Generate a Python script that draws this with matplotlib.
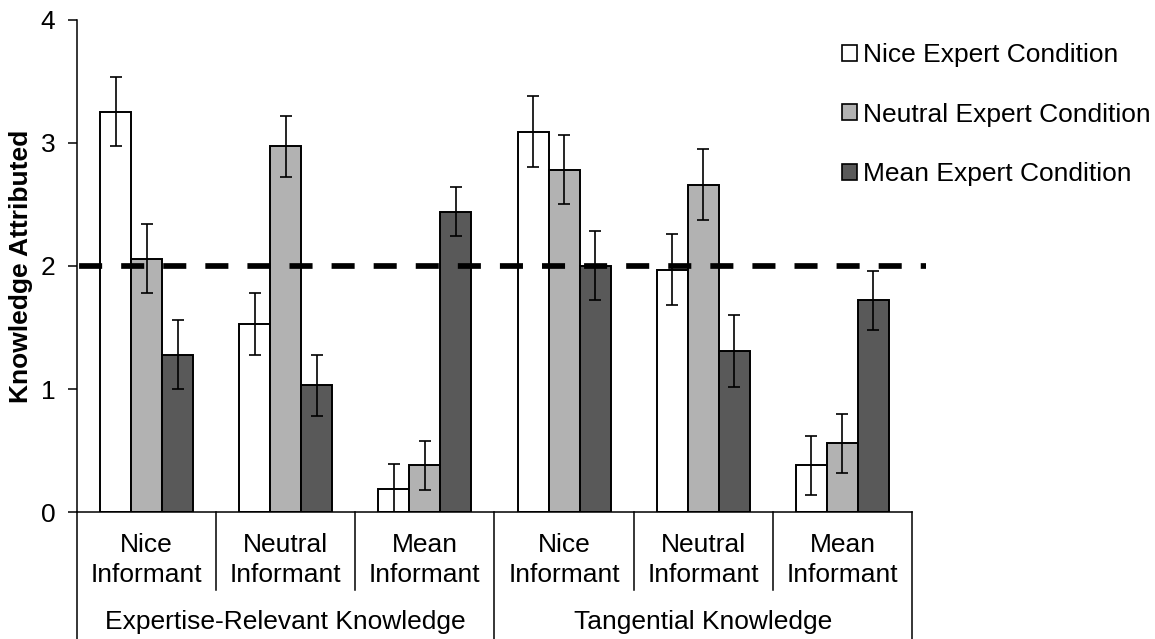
import matplotlib
matplotlib.use("Agg")
import matplotlib.pyplot as plt
from matplotlib.patches import Patch
import numpy as np

plt.rcParams['font.family'] = ['Liberation Sans', 'DejaVu Sans']
plt.rcParams['lines.scale_dashes'] = False

# ---- data ----
informants = ["Nice\nInformant", "Neutral\nInformant", "Mean\nInformant",
              "Nice\nInformant", "Neutral\nInformant", "Mean\nInformant"]
knowledge_groups = ["Expertise-Relevant Knowledge", "Tangential Knowledge"]
series_names = ["Nice Expert Condition", "Neutral Expert Condition", "Mean Expert Condition"]

nice_expert = [3.25, 1.53, 0.19, 3.09, 1.97, 0.38]
neutral_expert = [2.06, 2.97, 0.38, 2.78, 2.66, 0.56]
mean_expert = [1.28, 1.03, 2.44, 2.00, 1.31, 1.72]

nice_err = [0.28, 0.25, 0.20, 0.29, 0.29, 0.24]
neutral_err = [0.28, 0.25, 0.20, 0.28, 0.29, 0.24]
mean_err = [0.28, 0.25, 0.20, 0.28, 0.29, 0.24]

chance_level = 2

yticks = [0, 1, 2, 3, 4]
ylabel = "Knowledge Attributed"

# ---- styling ----
colors = ["#FFFFFF", "#B2B2B2", "#595959"]
FS = 19

W, H = 1155, 639
fig = plt.figure(figsize=(W / 100, H / 100), dpi=100)
ax = fig.add_axes([77 / W, 1 - 512.3 / H, (912 - 77) / W, (512.3 - 19.5) / H])

x = np.arange(len(informants))
bw = 0.2227
values = [nice_expert, neutral_expert, mean_expert]
errs = [nice_err, neutral_err, mean_err]
for i, (vals, er, c, name) in enumerate(zip(values, errs, colors, series_names)):
    pos = x + (i - 1) * bw
    ax.bar(pos, vals, width=bw, color=c, edgecolor="black", linewidth=1.4,
           label=name, zorder=2)
    ax.errorbar(pos, vals, yerr=er, fmt="none", ecolor="black", elinewidth=1.2,
                capsize=4.3, capthick=1.2, zorder=3)

# dashed reference line
ax.plot([-0.5, 5.6], [chance_level, chance_level], color="black", linewidth=4.1,
        linestyle=(28.8, (16.6, 13.7)), dash_capstyle="butt", clip_on=False, zorder=4)

ax.set_xlim(-0.5, 5.5)
ax.set_ylim(0, 4)
ax.set_yticks(yticks)
ax.set_yticklabels([str(t) for t in yticks], fontsize=FS)
ax.tick_params(axis="y", length=6.5, width=1.1, pad=9)
ax.set_xticks([])
for s in ["top", "right"]:
    ax.spines[s].set_visible(False)
ax.spines["left"].set_linewidth(1.1)
ax.spines["bottom"].set_linewidth(1.1)

ax.set_ylabel(ylabel, fontsize=FS, fontweight="bold")
ax.yaxis.set_label_coords(-(77 - 33) / (912 - 77), 0.5)

# category labels and separators
tr = ax.get_xaxis_transform()
axh = 512.3 - 19.5
for xi, lab in zip(x, informants):
    l1, l2 = lab.split("\n")
    ax.text(xi, -(552.3 - 512.3) / axh, l1, transform=tr, ha="center", va="baseline", fontsize=FS)
    ax.text(xi, -(582.5 - 512.3) / axh, l2, transform=tr, ha="center", va="baseline", fontsize=FS)
for k in range(len(informants) + 1):
    low = -(639 - 512.3) / axh if k % 3 == 0 else -(590 - 512.3) / axh
    ax.plot([k - 0.5, k - 0.5], [0, low], color="black", linewidth=1.1,
            transform=tr, clip_on=False)
for g, name in enumerate(knowledge_groups):
    ax.text(g * 3 + 1, -(629 - 512.3) / axh, name, transform=tr, ha="center",
            va="baseline", fontsize=FS)

handles = [Patch(facecolor=c, edgecolor="black", linewidth=1.2) for c in colors]
fig.legend(handles, series_names, loc="upper left", bbox_to_anchor=(842 / W, 1 - 43 / H),
           frameon=False, fontsize=FS, handlelength=0.55, handleheight=0.55,
           handletextpad=0.25, labelspacing=1.35, borderpad=0, borderaxespad=0)

fig.savefig("out.png", dpi=100)
